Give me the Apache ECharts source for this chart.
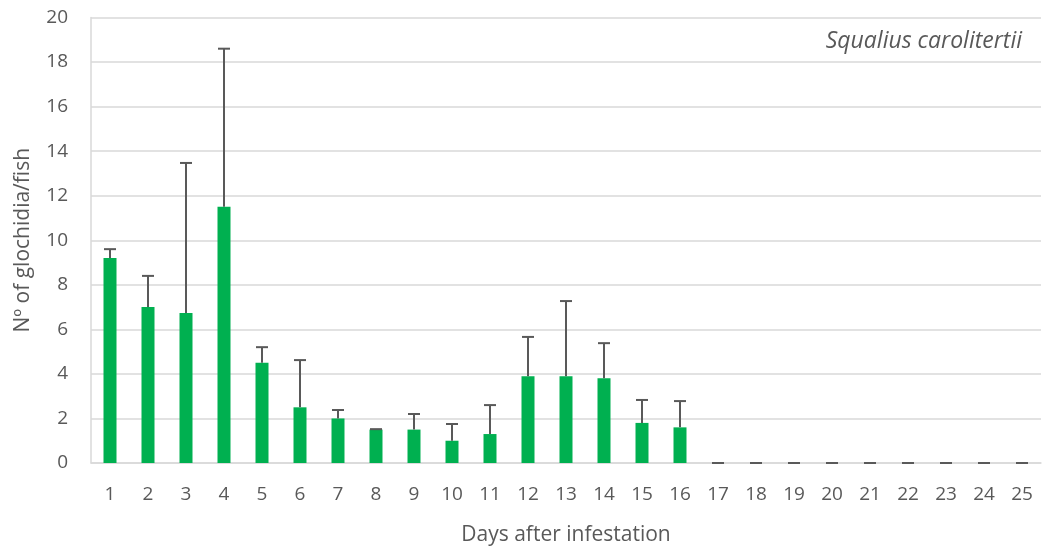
<!DOCTYPE html>
<html><head><meta charset="utf-8">
<script src="https://cdn.jsdelivr.net/npm/echarts@6/dist/echarts.min.js"></script>
<style>html,body{margin:0;padding:0;background:#fff}#c{width:1043px;height:546px}</style>
</head><body><div id="c"></div>
<script>
const days = ['1','2','3','4','5','6','7','8','9','10','11','12','13','14','15','16','17','18','19','20','21','22','23','24','25'];
const means = [9.2,7.0,6.73,11.5,4.5,2.5,2.0,1.5,1.5,1.0,1.3,3.9,3.9,3.8,1.8,1.6,0,0,0,0,0,0,0,0,0];
const upper = [9.6,8.4,13.47,18.6,5.2,4.62,2.38,1.52,2.2,1.75,2.6,5.66,7.27,5.38,2.83,2.78,0,0,0,0,0,0,0,0,0];
const yTicks = [0,2,4,6,8,10,12,14,16,18,20];
const FONT = 'Open Sans';
const chart = echarts.init(document.getElementById('c'));
const errData = days.map((d,i)=>[i, means[i], upper[i]]);
chart.setOption({
  animation:false,
  grid:{left:91,right:2,top:17.5,bottom:83,containLabel:false,outerBoundsMode:'none'},
  xAxis:{type:'category',data:days,
    axisLine:{lineStyle:{color:'#d9d9d9',width:1.5}},axisTick:{show:false},
    axisLabel:{color:'#595959',fontSize:19,fontFamily:FONT,margin:22},
    name:'Days after infestation',nameLocation:'middle',nameGap:62,
    nameTextStyle:{color:'#595959',fontSize:21,fontFamily:FONT}},
  yAxis:{type:'value',min:yTicks[0],max:yTicks[yTicks.length-1],interval:2,
    axisLine:{show:true,lineStyle:{color:'#d9d9d9',width:1.5}},axisTick:{show:false},
    splitLine:{lineStyle:{color:'#d9d9d9',width:1.5}},
    axisLabel:{color:'#595959',fontSize:19,fontFamily:FONT,margin:23},
    name:'Nº of glochidia/fish',nameLocation:'middle',nameGap:57,
    nameTextStyle:{color:'#595959',fontSize:21,fontFamily:FONT}},
  graphic:[{type:'text',right:21,top:30,style:{text:'Squalius carolitertii',fill:'#595959',
    font:'italic 23px "Open Sans"',textAlign:'right'}}],
  series:[
    {type:'bar',data:means,barWidth:13,itemStyle:{color:'#00B050'},z:2},
    {type:'custom',z:3,data:errData,encode:{x:0,y:[1,2]},
     renderItem:function(params,api){
       const x=api.value(0);
       const lo=api.coord([x,api.value(1)]);
       const hi=api.coord([x,api.value(2)]);
       const hw=6;
       const st={stroke:'#595959',lineWidth:2};
       return {type:'group',children:[
         {type:'line',shape:{x1:lo[0],y1:lo[1],x2:hi[0],y2:hi[1]},style:st},
         {type:'line',shape:{x1:hi[0]-hw,y1:hi[1],x2:hi[0]+hw,y2:hi[1]},style:st}
       ]};
     }}
  ]
});
</script></body></html>
